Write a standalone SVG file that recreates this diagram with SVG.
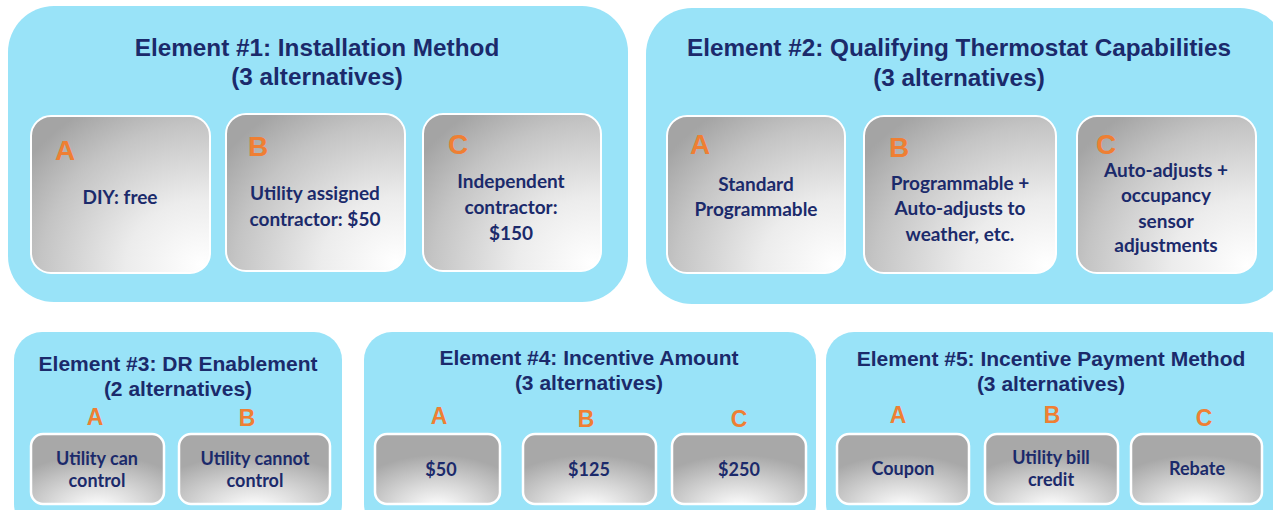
<svg xmlns="http://www.w3.org/2000/svg" width="1273" height="510" viewBox="0 0 1273 510">
  <defs>
    <radialGradient id="gCorner" cx="1" cy="1" r="1.25" fx="0.95" fy="0.95">
      <stop offset="0" stop-color="#ffffff"/>
      <stop offset="0.35" stop-color="#ececec"/>
      <stop offset="0.75" stop-color="#c4c4c4"/>
      <stop offset="1" stop-color="#a4a4a4"/>
    </radialGradient>
    <radialGradient id="gBottom" cx="0.5" cy="1.05" r="0.75">
      <stop offset="0" stop-color="#ffffff"/>
      <stop offset="0.45" stop-color="#d9d9d9"/>
      <stop offset="1" stop-color="#a8a8a8"/>
    </radialGradient>
    <style>
      .panel { fill: #99e3f8; }
      .card { fill: url(#gCorner); stroke: #ffffff; stroke-width: 2; }
      .chip { fill: url(#gBottom); stroke: #ffffff; stroke-width: 2.5; }
      .title { font-family: "Liberation Sans", Arial, sans-serif; font-weight: bold; fill: #1b2a6b; text-anchor: middle; }
      .t1 { font-size: 24.3px; }
      .t2 { font-size: 21px; }
      .letter { font-family: "Liberation Sans", Arial, sans-serif; font-weight: bold; fill: #ef7f33; }
      .L1 { font-size: 28px; }
      .L2 { font-size: 23px; text-anchor: middle; }
      .body { font-family: Lato, "Open Sans", sans-serif; font-weight: bold; fill: #1b2a6b; text-anchor: middle; font-size: 19px; }
      .small { font-size: 18px; }
    </style>
  </defs>

  <!-- Element 1 -->
  <g id="element1">
    <rect class="panel" x="8" y="6" width="620" height="296" rx="46"/>
    <text class="title t1" x="317" y="56">Element #1: Installation Method</text>
    <text class="title t1" x="317" y="85">(3 alternatives)</text>
    <g id="e1a">
      <rect class="card" x="31" y="116" width="179" height="157" rx="20"/>
      <text class="letter L1" x="55" y="160">A</text>
      <text class="body" x="120" y="204">DIY: free</text>
    </g>
    <g id="e1b">
      <rect class="card" x="226" y="114" width="179" height="157" rx="20"/>
      <text class="letter L1" x="248" y="156">B</text>
      <text class="body" x="315" y="200">Utility assigned</text>
      <text class="body" x="315" y="226">contractor: $50</text>
    </g>
    <g id="e1c">
      <rect class="card" x="423" y="114" width="178" height="157" rx="20"/>
      <text class="letter L1" x="448" y="154">C</text>
      <text class="body" x="511" y="188">Independent</text>
      <text class="body" x="511" y="214">contractor:</text>
      <text class="body" x="511" y="240">$150</text>
    </g>
  </g>

  <!-- Element 2 -->
  <g id="element2">
    <rect class="panel" x="646" y="8" width="640" height="296" rx="46"/>
    <text class="title t1" x="959" y="56">Element #2: Qualifying Thermostat Capabilities</text>
    <text class="title t1" x="959" y="86">(3 alternatives)</text>
    <g id="e2a">
      <rect class="card" x="667" y="116" width="178" height="157" rx="20"/>
      <text class="letter L1" x="690" y="154">A</text>
      <text class="body" x="756" y="191">Standard</text>
      <text class="body" x="756" y="216">Programmable</text>
    </g>
    <g id="e2b">
      <rect class="card" x="864" y="116" width="192" height="157" rx="20"/>
      <text class="letter L1" x="889" y="157">B</text>
      <text class="body" x="960" y="190">Programmable  +</text>
      <text class="body" x="960" y="215">Auto-adjusts to</text>
      <text class="body" x="960" y="241">weather, etc.</text>
    </g>
    <g id="e2c">
      <rect class="card" x="1077" y="116" width="179" height="157" rx="20"/>
      <text class="letter L1" x="1096" y="154">C</text>
      <text class="body" x="1166" y="177">Auto-adjusts +</text>
      <text class="body" x="1166" y="202">occupancy</text>
      <text class="body" x="1166" y="228">sensor</text>
      <text class="body" x="1166" y="252">adjustments</text>
    </g>
  </g>

  <!-- Element 3 -->
  <g id="element3">
    <rect class="panel" x="14" y="332" width="328" height="200" rx="28"/>
    <text class="title t2" x="178" y="371">Element #3: DR Enablement</text>
    <text class="title t2" x="178" y="396">(2 alternatives)</text>
    <g id="e3a">
      <text class="letter L2" x="95" y="425">A</text>
      <rect class="chip" x="31" y="434" width="133" height="70" rx="12"/>
      <text class="body small" x="97" y="465">Utility can</text>
      <text class="body small" x="97" y="487">control</text>
    </g>
    <g id="e3b">
      <text class="letter L2" x="247" y="426">B</text>
      <rect class="chip" x="179" y="434" width="151" height="70" rx="12"/>
      <text class="body small" x="255" y="465">Utility cannot</text>
      <text class="body small" x="255" y="487">control</text>
    </g>
  </g>

  <!-- Element 4 -->
  <g id="element4">
    <rect class="panel" x="364" y="332" width="452" height="200" rx="28"/>
    <text class="title t2" x="589" y="365">Element #4: Incentive Amount</text>
    <text class="title t2" x="589" y="390">(3 alternatives)</text>
    <g id="e4a">
      <text class="letter L2" x="439" y="424">A</text>
      <rect class="chip" x="375" y="434" width="125" height="70" rx="12"/>
      <text class="body small" x="441" y="476">$50</text>
    </g>
    <g id="e4b">
      <text class="letter L2" x="586" y="427">B</text>
      <rect class="chip" x="523" y="434" width="133" height="70" rx="12"/>
      <text class="body small" x="589" y="476">$125</text>
    </g>
    <g id="e4c">
      <text class="letter L2" x="739" y="427">C</text>
      <rect class="chip" x="672" y="434" width="134" height="70" rx="12"/>
      <text class="body small" x="739" y="476">$250</text>
    </g>
  </g>

  <!-- Element 5 -->
  <g id="element5">
    <rect class="panel" x="826" y="332" width="470" height="200" rx="28"/>
    <text class="title t2" x="1051" y="366">Element #5: Incentive Payment Method</text>
    <text class="title t2" x="1051" y="391">(3 alternatives)</text>
    <g id="e5a">
      <text class="letter L2" x="898" y="423">A</text>
      <rect class="chip" x="837" y="434" width="132" height="70" rx="12"/>
      <text class="body small" x="903" y="475">Coupon</text>
    </g>
    <g id="e5b">
      <text class="letter L2" x="1052" y="423">B</text>
      <rect class="chip" x="985" y="434" width="133" height="70" rx="12"/>
      <text class="body small" x="1051" y="464">Utility bill</text>
      <text class="body small" x="1051" y="486">credit</text>
    </g>
    <g id="e5c">
      <text class="letter L2" x="1204" y="426">C</text>
      <rect class="chip" x="1131" y="434" width="131" height="70" rx="12"/>
      <text class="body small" x="1197" y="475">Rebate</text>
    </g>
  </g>

  <!-- no connectors in this figure -->
  <g id="connectors"/>
</svg>
